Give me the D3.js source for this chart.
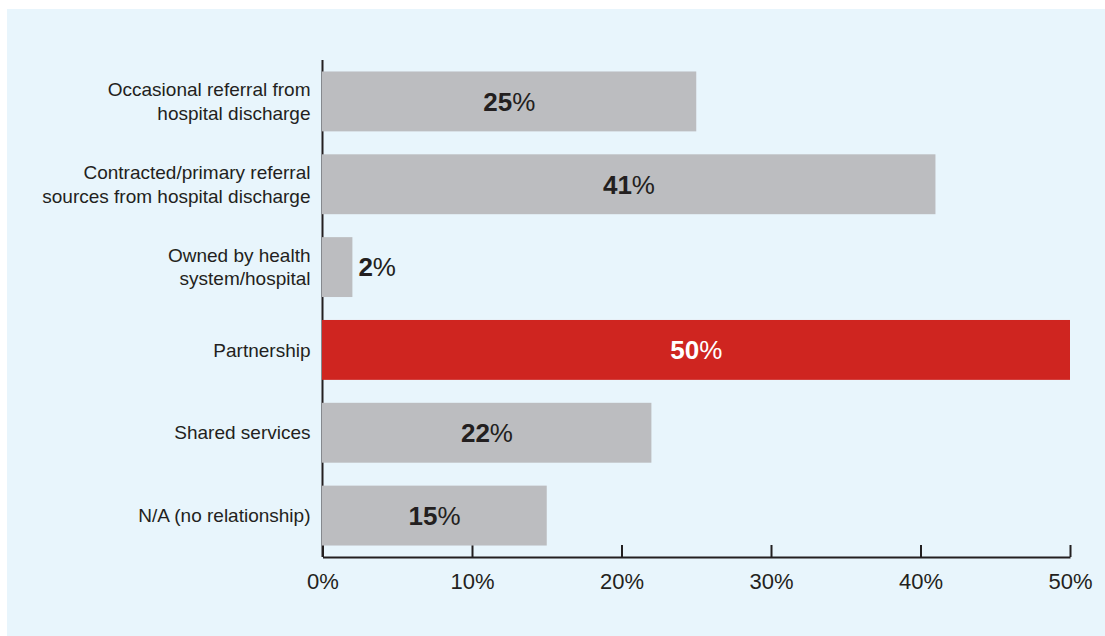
<!DOCTYPE html>
<html>
<head>
<meta charset="utf-8">
<script src="https://cdn.jsdelivr.net/npm/d3@7"></script>
<style>
  html, body { margin: 0; padding: 0; background: #ffffff; }
  svg { display: block; }
  text { font-family: "Liberation Sans", Arial, sans-serif; }
</style>
</head>
<body>
<svg id="chart" width="1105" height="636"></svg>
<script>
// ---- data ----
const categories = [
  "Occasional referral from hospital discharge",
  "Contracted/primary referral sources from hospital discharge",
  "Owned by health system/hospital",
  "Partnership",
  "Shared services",
  "N/A (no relationship)"
];
const categoryLines = [
  ["Occasional referral from", "hospital discharge"],
  ["Contracted/primary referral", "sources from hospital discharge"],
  ["Owned by health", "system/hospital"],
  ["Partnership"],
  ["Shared services"],
  ["N/A (no relationship)"]
];
const values = [25, 41, 2, 50, 22, 15];
const highlighted = [false, false, false, true, false, false];
const tickValues = [0, 10, 20, 30, 40, 50];
const tickLabels = ["0%", "10%", "20%", "30%", "40%", "50%"];

(function () {
// ---- layout ----
const svg = d3.select("#chart");
const W = 1105, H = 636;
const mLeft = 322.5, mRight = 1070, mTop = 60, mBottom = 557;
const ink = "#231f20";

svg.append("rect")
  .attr("x", 7).attr("y", 9)
  .attr("width", W - 7).attr("height", H - 9)
  .attr("fill", "#e8f5fc");

const x = d3.scaleLinear().domain([0, 50]).range([mLeft, mRight]);
const y = d3.scaleBand().domain(categories).range([mTop, mBottom])
  .paddingInner(0.277).paddingOuter(0.1385);

// axes
const g = svg.append("g");
g.append("line")
  .attr("x1", mLeft).attr("x2", mLeft)
  .attr("y1", mTop).attr("y2", mBottom)
  .attr("stroke", ink).attr("stroke-width", 2);

const xAxis = d3.axisBottom(x)
  .tickValues(tickValues)
  .tickFormat((d, i) => tickLabels[i])
  .tickSizeInner(-12).tickSizeOuter(0).tickPadding(14);

const xg = g.append("g").attr("transform", `translate(0,${mBottom})`).call(xAxis);
xg.select(".domain").attr("stroke", ink).attr("stroke-width", 2);
xg.selectAll(".tick line").attr("stroke", ink).attr("stroke-width", 2);
xg.selectAll(".tick text")
  .attr("fill", ink)
  .attr("font-size", 22)
  .attr("font-family", "'Liberation Sans', Arial, sans-serif")
  .attr("y", 24)
  .attr("dy", "0.35em");

// bars
svg.append("g").selectAll("rect")
  .data(categories)
  .join("rect")
  .attr("x", x(0) - 0.5)
  .attr("y", d => y(d))
  .attr("width", (d, i) => x(values[i]) - x(0) + 0.5)
  .attr("height", y.bandwidth())
  .attr("fill", (d, i) => highlighted[i] ? "#cf2520" : "#bcbdc0");

// category labels
const catG = svg.append("g");
categories.forEach((c, i) => {
  const lines = categoryLines[i];
  const cy = y(c) + y.bandwidth() / 2;
  const lh = 23.5;
  const t = catG.append("text")
    .attr("text-anchor", "end")
    .attr("font-size", 19)
    .attr("fill", ink);
  lines.forEach((ln, j) => {
    t.append("tspan")
      .attr("x", mLeft - 12)
      .attr("y", cy + (j - (lines.length - 1) / 2) * lh)
      .attr("dy", "0.35em")
      .text(ln);
  });
});

// value labels
const valG = svg.append("g");
categories.forEach((c, i) => {
  const v = values[i];
  const cy = y(c) + y.bandwidth() / 2;
  const inside = (x(v) - x(0)) > 60;
  const t = valG.append("text")
    .attr("x", inside ? (x(0) + x(v)) / 2 : x(v) + 6)
    .attr("y", cy)
    .attr("dy", "0.36em")
    .attr("text-anchor", inside ? "middle" : "start")
    .attr("font-size", 26)
    .attr("fill", highlighted[i] ? "#ffffff" : ink);
  t.append("tspan").attr("font-weight", "bold").text(v);
  t.append("tspan").attr("font-weight", "normal").text("%");
});
})();
</script>
</body>
</html>
